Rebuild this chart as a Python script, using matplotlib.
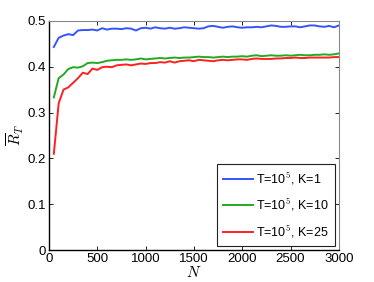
import matplotlib

matplotlib.use("Agg")
import matplotlib.pyplot as plt
import numpy as np

plt.rcParams["font.family"] = ["Liberation Sans", "DejaVu Sans"]
plt.rcParams["mathtext.fontset"] = "cm"

N = np.arange(50, 3001, 50)

r_k1 = [0.443, 0.463, 0.468, 0.471, 0.469, 0.479, 0.480, 0.480, 0.481, 0.479,
        0.484, 0.481, 0.483, 0.483, 0.482, 0.484, 0.483, 0.479, 0.484, 0.485,
        0.483, 0.486, 0.484, 0.483, 0.485, 0.483, 0.484, 0.486, 0.485, 0.484,
        0.483, 0.484, 0.488, 0.489, 0.487, 0.485, 0.487, 0.488, 0.486, 0.485,
        0.486, 0.486, 0.487, 0.486, 0.488, 0.490, 0.489, 0.487, 0.487, 0.488,
        0.488, 0.486, 0.488, 0.490, 0.490, 0.488, 0.487, 0.489, 0.486, 0.490]
r_k10 = [0.333, 0.375, 0.383, 0.395, 0.399, 0.398, 0.401, 0.408, 0.409, 0.408,
         0.410, 0.413, 0.414, 0.415, 0.415, 0.416, 0.415, 0.416, 0.418, 0.416,
         0.417, 0.418, 0.419, 0.418, 0.419, 0.420, 0.419, 0.420, 0.420, 0.421,
         0.422, 0.421, 0.421, 0.420, 0.421, 0.422, 0.421, 0.422, 0.422, 0.423,
         0.422, 0.424, 0.425, 0.423, 0.424, 0.425, 0.424, 0.424, 0.425, 0.424,
         0.425, 0.426, 0.425, 0.425, 0.426, 0.426, 0.427, 0.426, 0.427, 0.429]
r_k25 = [0.210, 0.320, 0.350, 0.355, 0.365, 0.375, 0.387, 0.384, 0.396, 0.393,
         0.399, 0.400, 0.399, 0.403, 0.404, 0.405, 0.403, 0.405, 0.407, 0.406,
         0.408, 0.408, 0.410, 0.409, 0.412, 0.409, 0.412, 0.413, 0.414, 0.412,
         0.415, 0.414, 0.413, 0.412, 0.414, 0.415, 0.414, 0.415, 0.416, 0.416,
         0.415, 0.417, 0.418, 0.417, 0.417, 0.417, 0.418, 0.418, 0.419, 0.419,
         0.420, 0.419, 0.419, 0.420, 0.420, 0.420, 0.420, 0.420, 0.421, 0.421]

labels = [r"T=10$^5$, K=1", r"T=10$^5$, K=10", r"T=10$^5$, K=25"]
colors = ["#3355ff", "#22aa22", "#ff2020"]

fig = plt.figure(figsize=(3.74, 2.82), dpi=100)
ax = fig.add_axes([0.131, 0.113, 0.775, 0.813])
for y, lab, c in zip((r_k1, r_k10, r_k25), labels, colors):
    ax.plot(N, y, color=c, lw=1.4, label=lab)

ax.set_xlim(0, 3000)
ax.set_ylim(0, 0.5)
ax.set_xticks(np.arange(0, 3001, 500))
ax.set_yticks(np.arange(0, 0.51, 0.1))
ax.set_yticklabels(["0", "0.1", "0.2", "0.3", "0.4", "0.5"])
ax.tick_params(direction="in", top=True, right=True, labelsize=9.5, length=3,
               width=0.6, pad=2)
for s in ("top", "right"):
    ax.spines[s].set_color("#888888")
for s in ("left", "bottom"):
    ax.spines[s].set_linewidth(1.0)
ax.set_xlabel(r"$N$", fontsize=11, labelpad=0)
ax.set_ylabel(r"$\overline{R}_T$", fontsize=11, labelpad=1)

leg = ax.legend(loc="lower right", fontsize=9, handlelength=2.4, fancybox=False,
                edgecolor="#222222", framealpha=1, borderaxespad=0.3,
                labelspacing=0.8, handletextpad=0.25, borderpad=0.5)
leg.get_frame().set_linewidth(0.8)

fig.savefig("out.png", dpi=100)
